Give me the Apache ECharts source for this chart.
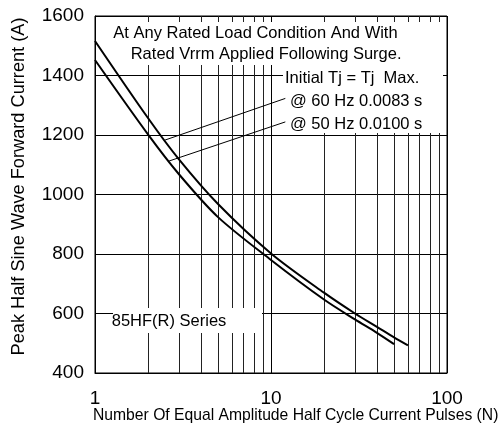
<!DOCTYPE html>
<html>
<head>
<meta charset="utf-8">
<script src="https://cdn.jsdelivr.net/npm/echarts@6/dist/echarts.min.js"></script>
<style>
html,body{margin:0;padding:0;background:#fff;}
#c{width:500px;height:439px;}
</style>
</head>
<body>
<div id="c"></div>
<script>
// Data
const pulses60 = [1, 2, 3, 5, 10, 20, 30, 40, 50, 60];
const current60 = [1516, 1257, 1118, 968, 802, 670, 600, 555, 520, 493];
const pulses50 = [1, 2, 3, 5, 10, 20, 30, 40, 50];
const current50 = [1452, 1202, 1068, 924, 780, 647, 580, 535, 497];
const minorPulses = [2, 3, 4, 5, 6, 7, 8, 9, 20, 30, 40, 50, 60, 70, 80, 90];
const yTicks = { min: 400, max: 1600, step: 200 };
const xTicks = { min: 1, max: 100 };

const FONT = '"Liberation Sans", Arial, Helvetica, sans-serif';
const chart = echarts.init(document.getElementById('c'), null, { renderer: 'canvas' });

function txt(text, x, y, size, extra) {
  return Object.assign({
    type: 'text', x: x, y: y, z: 20, silent: true,
    style: {
      text: text, fill: '#000', font: size + 'px ' + FONT,
      textAlign: 'left', textVerticalAlign: 'middle', align: 'left', verticalAlign: 'middle'
    }
  }, extra || {});
}
function box(x, y, w, h) {
  return { type: 'rect', z: 5, silent: true, shape: { x: x, y: y, width: w, height: h }, style: { fill: '#fff' } };
}

const option = {
  animation: false,
  backgroundColor: '#fff',
  grid: { left: 95, right: 53, top: 16, bottom: 66, show: true, borderColor: '#000', borderWidth: 1, containLabel: false },
  xAxis: {
    type: 'log', logBase: 10, min: xTicks.min, max: xTicks.max,
    axisLine: { show: true, lineStyle: { color: '#000', width: 1 } },
    axisTick: { show: false },
    axisLabel: { color: '#000', fontSize: 19, fontFamily: FONT, margin: 16, formatter: v => String(v) },
    splitLine: { show: true, lineStyle: { color: '#000', width: 1 } },
    minorTick: { show: false }, minorSplitLine: { show: false }
  },
  yAxis: {
    type: 'value', min: yTicks.min, max: yTicks.max, interval: yTicks.step,
    axisLine: { show: true, lineStyle: { color: '#000', width: 1 } },
    axisTick: { show: false },
    axisLabel: { color: '#000', fontSize: 19, fontFamily: FONT, margin: 11, formatter: v => String(v) },
    splitLine: { show: true, lineStyle: { color: '#000', width: 1 } }
  },
  series: [
    {
      type: 'line', name: 'minor', data: [[1, 400]], showSymbol: false, symbol: 'none', silent: true,
      lineStyle: { opacity: 0 }, z: 1,
      markLine: {
        z: 1, silent: true, symbol: ['none', 'none'], label: { show: false },
        lineStyle: { color: '#222', width: 1, type: 'solid' },
        emphasis: { disabled: true },
        data: minorPulses.map(v => ({ xAxis: v }))
      }
    },
    {
      type: 'line', name: '60 Hz', data: pulses60.map((n, i) => [n, current60[i]]),
      showSymbol: false, symbol: 'none', smooth: 0.3, z: 10,
      lineStyle: { color: '#000', width: 2 },
      markLine: {
        z: 10, silent: true, symbol: ['none', 'none'], label: { show: false },
        lineStyle: { color: '#000', width: 1, type: 'solid' },
        data: [[{ coord: [12.06, 1323] }, { coord: [2.5, 1183] }]]
      }
    },
    {
      type: 'line', name: '50 Hz', data: pulses50.map((n, i) => [n, current50[i]]),
      showSymbol: false, symbol: 'none', smooth: 0.3, z: 10,
      lineStyle: { color: '#000', width: 2 },
      markLine: {
        z: 10, silent: true, symbol: ['none', 'none'], label: { show: false },
        lineStyle: { color: '#000', width: 1, type: 'solid' },
        data: [[{ coord: [12.06, 1244] }, { coord: [2.62, 1112] }]]
      }
    }
  ],
  graphic: [
    box(108, 22, 335, 43),
    box(283, 65, 160, 68),
    box(113, 308, 149, 25),
    txt('At Any Rated Load Condition And With', 113.3, 33, 16.5),
    txt('Rated Vrrm Applied Following Surge.', 130.7, 54.7, 16.5),
    txt('Initial Tj = Tj  Max.', 285, 78.4, 16.5),
    txt('@ 60 Hz 0.0083 s', 290, 101.8, 16.5),
    txt('@ 50 Hz 0.0100 s', 290, 124.1, 16.5),
    txt('85HF(R) Series', 111.7, 321.5, 16.5),
    txt('Number Of Equal Amplitude Half Cycle Current Pulses (N)', 93, 416, 15.7),
    {
      type: 'text', x: 18.7, y: 186.5, rotation: Math.PI / 2, z: 20, silent: true,
      style: {
        text: 'Peak Half Sine Wave Forward Current (A)', fill: '#000', font: '18.2px ' + FONT,
        textAlign: 'center', textVerticalAlign: 'middle', align: 'center', verticalAlign: 'middle'
      }
    }
  ]
};
chart.setOption(option);
</script>
</body>
</html>
